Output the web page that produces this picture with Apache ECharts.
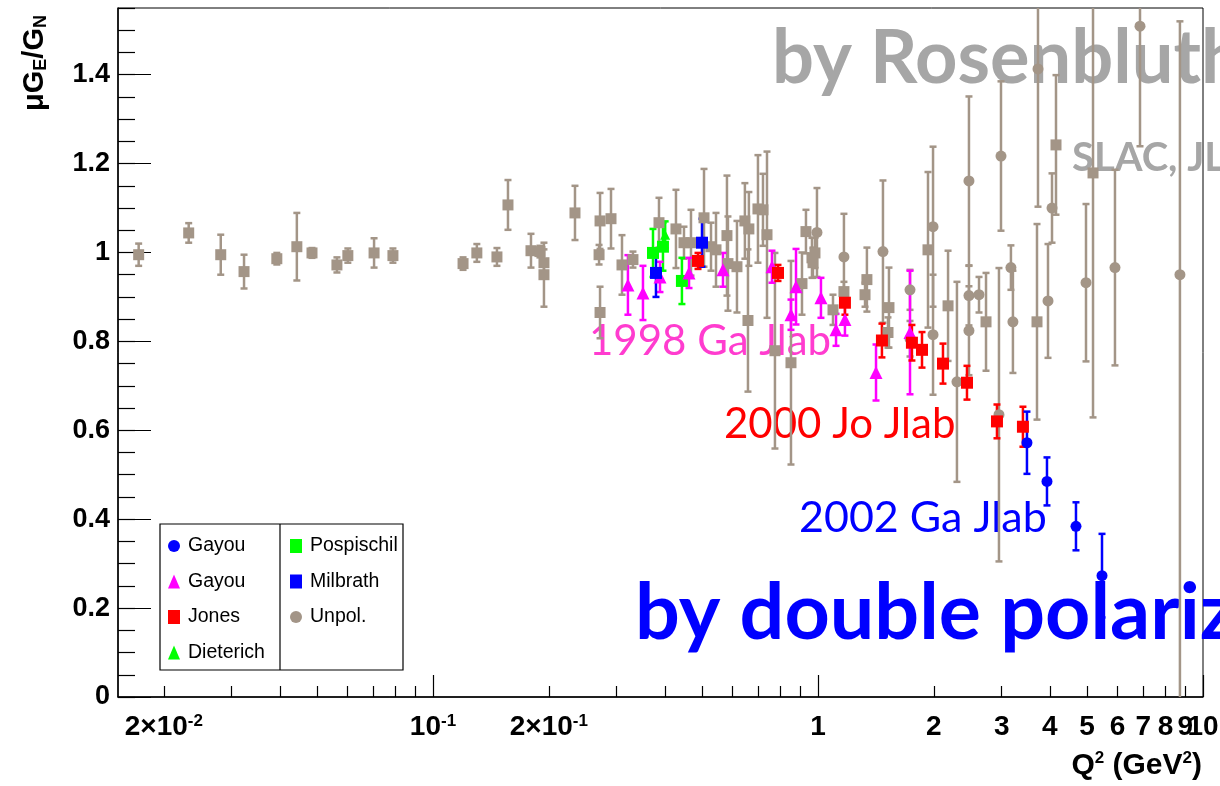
<!DOCTYPE html>
<html><head><meta charset="utf-8">
<script src="https://cdn.jsdelivr.net/npm/echarts@6/dist/echarts.min.js"></script>
<style>html,body{margin:0;padding:0;background:#fff;}#c{width:1220px;height:786px;}</style>
</head><body><div id="c"></div>
<script>
// ---------- tick labels ----------
const xTickValues = [0.02, 0.1, 0.2, 1, 2, 3, 4, 5, 6, 7, 8, 9, 10];
const xTickLabels = ['2×10^-2', '10^-1', '2×10^-1', '1', '2', '3', '4', '5', '6', '7', '8', '9', '10'];
const xMajorTicks = [0.1, 1, 10];
const xMinorTicks = [0.02, 0.03, 0.04, 0.05, 0.06, 0.07, 0.08, 0.09, 0.2, 0.3, 0.4, 0.5, 0.6, 0.7, 0.8, 0.9, 2, 3, 4, 5, 6, 7, 8, 9];

// ---------- Unpolarized (Rosenbluth) – squares ----------
const unpolSqQ2 = [0.0172, 0.0232, 0.0281, 0.0323, 0.0393, 0.0443, 0.0485, 0.0563, 0.0601, 0.0703, 0.0787,
  0.1197, 0.130, 0.1466, 0.1566, 0.1797, 0.1896, 0.1942, 0.1942, 0.2338, 0.2716, 0.270, 0.2716, 0.290, 0.3097,
  0.3307, 0.3864, 0.4277, 0.4487, 0.4679, 0.5058, 0.5274, 0.5434, 0.5802, 0.5837, 0.616, 0.6459, 0.6615, 0.6579,
  0.6984, 0.7197, 0.7372, 0.7731, 0.8509, 0.9088, 0.9307, 0.9647, 0.9822, 0.9706, 1.094, 1.168, 1.340, 1.325,
  1.529, 1.520, 1.931, 2.177, 2.732, 3.706, 4.152, 5.181];
const unpolSqVal = [0.995, 1.044, 0.995, 0.957, 0.986, 1.013, 0.999, 0.972, 0.993, 0.999, 0.993,
  0.975, 0.999, 0.990, 1.107, 1.004, 1.002, 0.977, 0.950, 1.089, 1.071, 0.995, 0.865, 1.076, 0.972,
  0.984, 1.067, 1.053, 1.022, 1.022, 1.078, 1.013, 1.006, 1.038, 0.975, 0.968, 1.071, 1.053, 0.847,
  1.098, 1.096, 1.040, 0.779, 0.752, 0.930, 1.047, 0.988, 0.999, 0.977, 0.871, 0.912, 0.939, 0.905,
  0.876, 0.820, 1.006, 0.880, 0.844, 0.844, 1.242, 1.179];
const unpolSqErr = [0.025, 0.022, 0.045, 0.038, 0.013, 0.076, 0.011, 0.017, 0.016, 0.033, 0.016,
  0.014, 0.020, 0.020, 0.056, 0.038, 0.013, 0.030, 0.072, 0.061, 0.063, 0.022, 0.058, 0.067, 0.067,
  0.018, 0.056, 0.088, 0.036, 0.074, 0.110, 0.054, 0.083, 0.135, 0.106, 0.103, 0.085, 0.083, 0.160,
  0.121, 0.081, 0.187, 0.220, 0.229, 0.070, 0.049, 0.045, 0.034, 0.034, 0.034, 0.022, 0.072, 0.027,
  0.090, 0.034, 0.175, 0.124, 0.110, 0.220, 0.157, 0.550];

// ---------- Unpolarized (Rosenbluth) – circles ----------
const unpolCiQ2 = [0.994, 1.168, 1.475, 1.734, 1.734, 1.990, 1.990, 2.296, 2.467, 2.467, 2.467, 2.620,
  2.988, 2.952, 3.171, 3.209, 3.728, 3.958, 4.054, 4.968, 5.908, 6.862, 8.713];
const unpolCiVal = [1.045, 0.990, 1.002, 0.916, 0.806, 1.058, 0.815, 0.709, 1.161, 0.903, 0.824, 0.905,
  1.217, 0.635, 0.966, 0.844, 1.413, 0.891, 1.100, 0.932, 0.966, 1.509, 0.950];
const unpolCiErrLo = [0.100, 0.097, 0.160, 0.045, 0.040, 0.180, 0.135, 0.225, 0.190, 0.067, 0.100, 0.040,
  0.168, 0.330, 0.050, 0.115, 0.310, 0.128, 0.078, 0.177, 0.220, 0.270, 1.000];
const unpolCiErrHi = [0.100, 0.097, 0.160, 0.045, 0.040, 0.180, 0.135, 0.225, 0.190, 0.067, 0.100, 0.040,
  0.168, 0.330, 0.050, 0.115, 0.310, 0.128, 0.078, 0.177, 0.220, 0.270, 0.570];

// ---------- Gayou 2001 (triangles) ----------
const gayouTriQ2 = [0.3209, 0.3511, 0.3887, 0.4624, 0.5666, 0.7595, 0.8509, 0.8769, 1.018, 1.114, 1.175, 1.415, 1.734];
const gayouTriVal = [0.927, 0.909, 0.945, 0.954, 0.961, 0.968, 0.860, 0.923, 0.898, 0.826, 0.849, 0.730, 0.820];
const gayouTriErr = [0.067, 0.061, 0.034, 0.034, 0.038, 0.036, 0.034, 0.085, 0.045, 0.036, 0.036, 0.063, 0.139];

// ---------- Jones 2000 ----------
const jonesQ2 = [0.488, 0.7873, 1.175, 1.466, 1.754, 1.863, 2.112, 2.438, 2.917, 3.407];
const jonesVal = [0.981, 0.954, 0.887, 0.802, 0.797, 0.781, 0.750, 0.707, 0.620, 0.608];
const jonesErr = [0.018, 0.018, 0.027, 0.038, 0.040, 0.040, 0.045, 0.038, 0.038, 0.045];

// ---------- Gayou 2002 (circles) ----------
const gayouCiQ2 = [3.490, 3.934, 4.679, 5.467];
const gayouCiVal = [0.572, 0.485, 0.384, 0.273];
const gayouCiErr = [0.070, 0.054, 0.054, 0.094];

// ---------- Milbrath ----------
const milbrathQ2 = [0.3795, 0.4997];
const milbrathVal = [0.954, 1.022];
const milbrathErr = [0.054, 0.054];

// ---------- Pospischil ----------
const pospQ2 = [0.3728, 0.3957, 0.4432];
const pospVal = [0.999, 1.013, 0.936];
const pospErr = [0.054, 0.054, 0.052];

// ---------- Dieterich ----------
const dietQ2 = [0.4009];
const dietVal = [1.040];
const dietErr = [0.030];

const GRAY = '#a39587';

function zipErr(q, v, lo, hi) { return q.map((x, i) => [x, v[i], lo[i], (hi || lo)[i]]); }
function zipPt(q, v) { return q.map((x, i) => [x, v[i]]); }

function errRender(color, lw) {
  return function (params, api) {
    const x = api.value(0), y = api.value(1), lo = api.value(2), hi = api.value(3);
    const cs = params.coordSys;
    const t = api.coord([x, y + hi]);
    const b = api.coord([x, y - lo]);
    const y0 = cs.y, y1 = cs.y + cs.height;
    const px = t[0];
    const yt = Math.max(t[1], y0), yb = Math.min(b[1], y1);
    const ch = [{ type: 'line', shape: { x1: px, y1: yt, x2: px, y2: yb }, style: { stroke: color, lineWidth: lw } }];
    const cap = 3.5;
    if (t[1] >= y0) ch.push({ type: 'line', shape: { x1: px - cap, y1: t[1], x2: px + cap, y2: t[1] }, style: { stroke: color, lineWidth: 2.5 } });
    if (b[1] <= y1) ch.push({ type: 'line', shape: { x1: px - cap, y1: b[1], x2: px + cap, y2: b[1] }, style: { stroke: color, lineWidth: 2.5 } });
    return { type: 'group', children: ch };
  };
}
function errSeries(data, color, lw) {
  return { type: 'custom', renderItem: errRender(color, lw), data: data, encode: { x: 0, y: 1 }, silent: true, z: 2 };
}
function ptSeries(name, data, symbol, size, color) {
  return { name: name, type: 'scatter', data: data, symbol: symbol, symbolSize: size, itemStyle: { color: color, opacity: 1 }, silent: true, z: 3 };
}

const series = [
  errSeries(zipErr(unpolSqQ2, unpolSqVal, unpolSqErr), GRAY, 2.5),
  ptSeries('Unpol. sq', zipPt(unpolSqQ2, unpolSqVal), 'rect', 11, GRAY),
  errSeries(zipErr(unpolCiQ2, unpolCiVal, unpolCiErrLo, unpolCiErrHi), GRAY, 2.5),
  ptSeries('Unpol.', zipPt(unpolCiQ2, unpolCiVal), 'circle', 11, GRAY),
  errSeries(zipErr(pospQ2, pospVal, pospErr), '#00ff00', 2.5),
  ptSeries('Pospischil', zipPt(pospQ2, pospVal), 'rect', 12, '#00ff00'),
  errSeries(zipErr(dietQ2, dietVal, dietErr), '#00ff00', 2.5),
  ptSeries('Dieterich', zipPt(dietQ2, dietVal), 'triangle', 10, '#00ff00'),
  errSeries(zipErr(gayouTriQ2, gayouTriVal, gayouTriErr), '#ff00ff', 2.5),
  ptSeries('Gayou ', zipPt(gayouTriQ2, gayouTriVal), 'triangle', 13, '#ff00ff'),
  errSeries(zipErr(milbrathQ2, milbrathVal, milbrathErr), '#0000ff', 2.5),
  ptSeries('Milbrath', zipPt(milbrathQ2, milbrathVal), 'rect', 12, '#0000ff'),
  errSeries(zipErr(jonesQ2, jonesVal, jonesErr), '#ff0000', 2.5),
  ptSeries('Jones', zipPt(jonesQ2, jonesVal), 'rect', 12, '#ff0000'),
  errSeries(zipErr(gayouCiQ2, gayouCiVal, gayouCiErr), '#0000ff', 2.5),
  ptSeries('Gayou', zipPt(gayouCiQ2, gayouCiVal), 'circle', 11, '#0000ff')
];

function fmtX(v) {
  const i = xTickValues.findIndex(t => Math.abs(t - v) / t < 1e-3);
  const s = i >= 0 ? xTickLabels[i] : String(v);
  return s.replace(/\^(-?\d+)/, '{sup|$1}');
}

const TICKFONT = 'Liberation Sans';
const XMAX = 10.002;
// labels split over two axes so that touching labels ("9", "10") are both kept
const labelsA = xTickValues.filter((v, i) => i % 2 === 0);
const labelsB = xTickValues.filter((v, i) => i % 2 === 1);
const xLabelStyle = {
  show: true, margin: 16, color: '#000', hideOverlap: false, showMinLabel: true, showMaxLabel: true, interval: 0,
  fontFamily: TICKFONT, fontWeight: 'bold', fontSize: 28, formatter: fmtX,
  rich: { sup: { fontFamily: TICKFONT, fontWeight: 'bold', fontSize: 17, verticalAlign: 'top', color: '#000' } }
};
const chart = echarts.init(document.getElementById('c'), null, { renderer: 'canvas' });
const legendText = { fontFamily: 'Liberation Sans', fontSize: 19.5, color: '#000', lineHeight: 14, padding: [0, 0, 0, 3] };
chart.setOption({
  animation: false,
  backgroundColor: '#fff',
  grid: { left: 118, right: 17, top: 8, bottom: 89, show: true, borderColor: '#000', borderWidth: 1, containLabel: false, outerBoundsMode: 'none' },
  xAxis: [
    {
      type: 'log', logBase: 10, min: 0.0152, max: XMAX,
      axisLine: { show: true, lineStyle: { color: '#000', width: 1.5 } },
      axisTick: { show: true, inside: true, length: 22, customValues: xMajorTicks, lineStyle: { color: '#000', width: 1.2 } },
      axisLabel: Object.assign({}, xLabelStyle, { customValues: labelsA }),
      splitLine: { show: false }, minorTick: { show: false }
    },
    {
      type: 'log', logBase: 10, min: 0.0152, max: XMAX, position: 'bottom',
      axisLine: { show: false },
      axisTick: { show: true, inside: true, length: 11, customValues: xMinorTicks, lineStyle: { color: '#000', width: 1.2 } },
      axisLabel: Object.assign({}, xLabelStyle, { customValues: labelsB }),
      splitLine: { show: false }
    }
  ],
  yAxis: [
    {
      type: 'value', min: 0, max: 1.55, interval: 0.2,
      axisLine: { show: true, lineStyle: { color: '#000', width: 1.5 } },
      axisTick: { show: true, inside: true, length: 33, lineStyle: { color: '#000', width: 1.2 } },
      axisLabel: { color: '#000', fontFamily: TICKFONT, fontWeight: 'bold', fontSize: 27, margin: 8, showMaxLabel: false },
      splitLine: { show: false }
    },
    {
      type: 'value', min: 0, max: 1.55, interval: 0.05, position: 'left',
      axisLine: { show: false },
      axisTick: { show: true, inside: true, length: 17, lineStyle: { color: '#000', width: 1.2 } },
      axisLabel: { show: false }, splitLine: { show: false }
    }
  ],
  legend: [
    { data: ['Gayou', 'Gayou ', 'Jones', 'Dieterich'], orient: 'vertical', left: 168, top: 536, padding: 0,
      itemGap: 15.5, itemWidth: 12, itemHeight: 14, selectedMode: false,
      textStyle: legendText, formatter: n => n.trim(), z: 5 },
    { data: ['Pospischil', 'Milbrath', 'Unpol.'], orient: 'vertical', left: 290, top: 536, padding: 0,
      itemGap: 15.5, itemWidth: 12, itemHeight: 14, selectedMode: false,
      textStyle: legendText, z: 5 }
  ],
  graphic: [
    { type: 'text', x: 772, y: 59, z: 0, style: { text: 'by Rosenbluth', fill: '#a6a6a6', font: 'bold 74px Lato', verticalAlign: 'middle' } },
    { type: 'text', x: 1072, y: 158, z: 0, style: { text: 'SLAC, JLab', fill: '#a6a6a6', font: 'bold 40px Lato', verticalAlign: 'middle' } },
    { type: 'text', x: 589, y: 341, z: 0, style: { text: '1998 Ga Jlab', fill: '#ff3ccf', font: '42px Lato', verticalAlign: 'middle' } },
    { type: 'text', x: 724, y: 424, z: 0, style: { text: '2000 Jo Jlab', fill: '#ff0000', font: '42px Lato', verticalAlign: 'middle' } },
    { type: 'text', x: 799, y: 518, z: 0, style: { text: '2002 Ga Jlab', fill: '#0000ff', font: '43px Lato', verticalAlign: 'middle' } },
    { type: 'text', x: 635, y: 614, z: 0, style: { text: 'by double polarization', fill: '#0000ff', font: 'bold 79px Lato', verticalAlign: 'middle' } },
    { type: 'rect', shape: { x: 160, y: 524, width: 243, height: 146 }, z: 4, style: { fill: '#fff', stroke: '#000', lineWidth: 1.2 } },
    { type: 'line', shape: { x1: 280, y1: 524, x2: 280, y2: 670 }, z: 4, style: { stroke: '#000', lineWidth: 1.2 } },
    { type: 'text', x: 1202, y: 766, z: 5, style: {
        text: '{a|Q}{s|2}{a| (GeV}{s|2}{a|)}', align: 'right', verticalAlign: 'middle',
        rich: { a: { font: 'bold 30px "Liberation Sans"', fill: '#000', lineHeight: 32 }, s: { font: 'bold 17px "Liberation Sans"', fill: '#000', verticalAlign: 'top', lineHeight: 32 } } } },
    { type: 'text', x: 35, y: 63, rotation: Math.PI / 2, z: 5, style: {
        text: '{a|μG}{s|E}{a|/G}{s|N}', align: 'center', verticalAlign: 'middle',
        rich: { a: { font: 'bold 29px "Liberation Sans"', fill: '#000', lineHeight: 30 }, s: { font: 'bold 18px "Liberation Sans"', fill: '#000', verticalAlign: 'bottom', lineHeight: 30 } } } }
  ],
  series: series
});
</script></body></html>
